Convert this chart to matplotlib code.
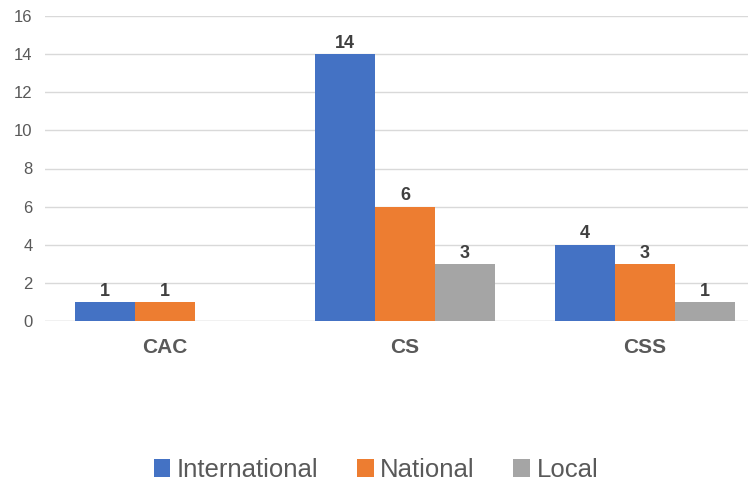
import matplotlib.pyplot as plt
import numpy as np

plt.rcParams['font.family'] = ['Liberation Sans', 'DejaVu Sans']

categories = ['CAC', 'CS', 'CSS']
series_names = ['International', 'National', 'Local']
international = [1, 14, 4]
national = [1, 6, 3]
local = [0, 3, 1]
colors = ['#4472C4', '#ED7D31', '#A5A5A5']

fig = plt.figure(figsize=(7.52, 4.82), dpi=100)
ax = fig.add_axes([45 / 752, 1 - 321 / 482, (748 - 45) / 752, (321 - 16) / 482])

x = np.arange(len(categories))
w = 0.25
for i, (vals, name) in enumerate(zip([international, national, local], series_names)):
    bars = ax.bar(x + (i - 1) * w, vals, w, color=colors[i], label=name, zorder=3)
    for b, v in zip(bars, vals):
        if v > 0:
            ax.text(b.get_x() + b.get_width() / 2, v + 0.12, str(v), ha='center', va='bottom',
                    fontsize=13, fontweight='bold', color='#404040')

ax.set_xlim(-0.5, 2.43)
ax.set_ylim(0, 16)
ax.set_yticks(range(0, 17, 2))
ax.yaxis.grid(True, color='#D9D9D9', linewidth=1, zorder=0)
ax.set_axisbelow(True)
for s in ax.spines.values():
    s.set_visible(False)
ax.axhline(0, color='#D9D9D9', linewidth=1, zorder=2)
ax.tick_params(axis='both', length=0)
ax.tick_params(axis='y', labelsize=12, labelcolor='#595959', pad=9)
ax.set_xticks(x)
ax.set_xticklabels(categories, fontsize=15, fontweight='bold', color='#595959')
ax.tick_params(axis='x', pad=12)

fig.legend(loc='center', bbox_to_anchor=(376 / 752, 1 - 470 / 482), ncol=3, frameon=False,
           fontsize=18.5, labelcolor='#595959', handlelength=0.65, handleheight=0.65,
           handletextpad=0.25, columnspacing=1.5)

fig.savefig('out.png', dpi=100)
